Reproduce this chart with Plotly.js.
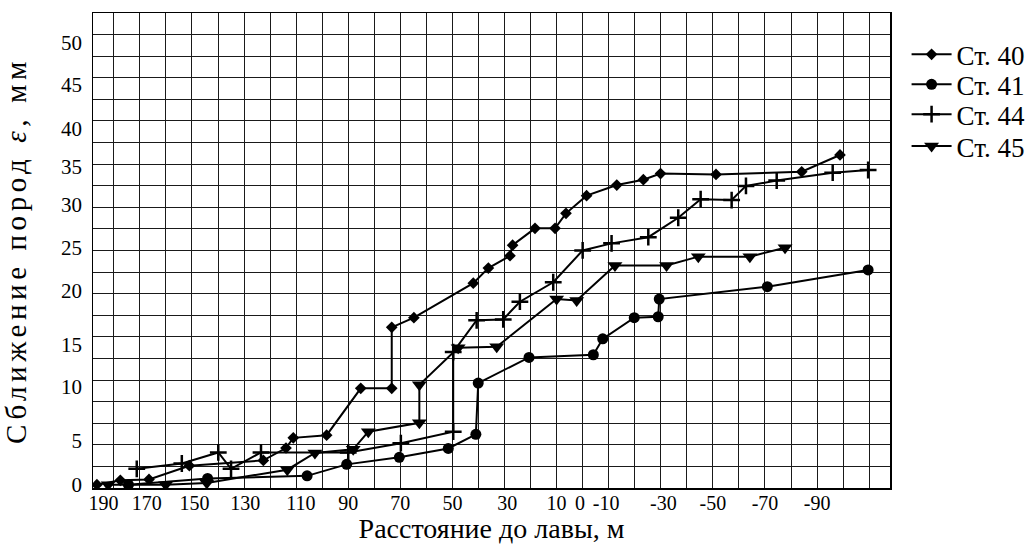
<!DOCTYPE html>
<html>
<head>
<meta charset="utf-8">
<script src="https://cdn.plot.ly/plotly-3.0.1.min.js"></script>
<style>
html,body{margin:0;padding:0;background:#fff;}
#chart{width:1026px;height:544px;}
#chart .g-y2title text{letter-spacing:4.6px;}
</style>
</head>
<body>
<div id="chart"></div>
<script>
// ---- tick labels (as printed on the chart) and where they sit on the axes ----
const xTickLabels = ['190','170','150','130','110','90','70','50','30','10','0','-10','-30','-50','-70','-90'];
const xTickPos    = [184, 167.4, 149, 129.5, 108.2, 90, 70, 50, 29, 10, 1, -9, -31, -50, -70, -90];
const yTickLabels = ['0','5','10','15','20','25','30','35','40','45','50'];
const yTickPos    = [0, 5, 11.1, 15.8, 21.9, 26.8, 31.7, 36, 40.3, 45.2, 50];

// ---- series: distance to the face (m) and rock convergence (mm) ----
const st40x = [186.5, 177.5, 166.5, 151, 122.6, 113.9, 111.1, 98.3, 85.2, 73.3, 73.3, 64.8, 42.0, 36.2, 27.9, 26.9, 18.3, 10.6, 6.4, -1.5, -13.1, -23.3, -29.9, -51.2, -84.1, -98.8];
const st40y = [0, 0.5, 0.6, 2.15, 2.75, 4.15, 5.3, 5.6, 10.9, 10.9, 17.8, 18.9, 22.8, 24.5, 25.9, 27.1, 29.0, 29.0, 30.7, 32.7, 33.9, 34.5, 35.2, 35.1, 35.4, 37.3];

const st41x = [174.4, 144.0, 105.8, 90.6, 70.4, 51.6, 41.0, 40.1, 20.6, -4.1, -7.7, -19.8, -29.0, -29.4, -70.9, -109.6];
const st41y = [0, 0.7, 1.0, 2.3, 3.1, 4.1, 5.7, 11.5, 14.4, 14.7, 16.5, 18.9, 19.0, 21.0, 22.4, 24.3];

const st44x = [171.2, 153.9, 139.9, 135, 123.5, 90, 69.8, 49.7, 49.7, 40.7, 30.5, 24.1, 11.3, 0, -11.1, -25.2, -36.7, -45.3, -57.2, -62.7, -74.5, -96, -109.6];
const st44y = [1.8, 2.4, 3.65, 1.8, 3.65, 3.65, 4.7, 6.0, 15.0, 18.6, 18.7, 20.7, 22.9, 26.5, 27.3, 28.0, 30.2, 32.3, 32.2, 33.8, 34.4, 35.3, 35.6];

const st45x = [182.2, 160.1, 144.3, 113.4, 102.8, 88.1, 82.3, 62.7, 62.7, 47.8, 33.0, 10.0, 2.3, -12.4, -32.2, -44.4, -64.2, -77.7];
const st45y = [0, 0, 0.2, 1.7, 3.6, 4.0, 6.0, 7.0, 11.3, 15.5, 15.6, 21.0, 20.85, 24.8, 24.8, 25.8, 25.8, 26.8];

const names = ['Ст. 40', 'Ст. 41', 'Ст. 44', 'Ст. 45'];

const FONT = 'Liberation Serif, Times New Roman, serif';
const xRange = [188, -118];
const yRange = [-0.373, 53.36];
const NB = '\u00A0';

function series(x, y, name, symbol, size, legendId, lw) {
  return {
    x: x, y: y, name: name, type: 'scatter', mode: 'lines+markers', legend: legendId,
    line: {color: '#000', width: 2},
    marker: {color: '#000', symbol: symbol, size: size, line: {color: '#000', width: lw}},
    hoverinfo: 'x+y+name'
  };
}

const traces = [
  series(st40x, st40y, names[0], 'diamond', 9, 'legend', 0),
  series(st41x, st41y, names[1], 'circle', 11, 'legend2', 0),
  series(st44x, st44y, names[2], 'cross-thin', 12, 'legend3', 2.5),
  series(st45x, st45y, names[3], 'triangle-down', 13, 'legend4', 0),
  {x: [], y: [], xaxis: 'x2', yaxis: 'y2', type: 'scatter', mode: 'markers', showlegend: false, hoverinfo: 'skip'}
];

const gridAxis = {
  tickmode: 'linear', showgrid: true, gridcolor: '#1a1a1a', gridwidth: 1,
  showticklabels: false, ticks: '', zeroline: false,
  showline: true, linecolor: '#000', linewidth: 1.5, mirror: true, fixedrange: true
};

function legendAt(yPaper) {
  return {
    x: 1.0208, y: yPaper, xanchor: 'left', yanchor: 'middle',
    font: {family: FONT, size: 27, color: '#000'},
    bgcolor: 'rgba(0,0,0,0)', borderwidth: 0, itemwidth: 40
  };
}

const layout = {
  width: 1026, height: 544,
  margin: {l: 93, r: 136, t: 13, b: 56, pad: 0, autoexpand: false},
  paper_bgcolor: '#fff', plot_bgcolor: '#fff',
  font: {family: FONT, color: '#000'},
  showlegend: true,
  legend: legendAt(0.912),
  legend2: legendAt(0.849),
  legend3: legendAt(0.786),
  legend4: legendAt(0.719),
  xaxis: Object.assign({}, gridAxis, {range: xRange, tick0: 0, dtick: 10}),
  yaxis: Object.assign({}, gridAxis, {range: yRange, tick0: yRange[0], dtick: (yRange[1] - yRange[0]) / 22}),
  xaxis2: {
    overlaying: 'x', anchor: 'y', side: 'bottom', range: xRange,
    tickmode: 'array', tickvals: xTickPos, ticktext: xTickLabels,
    showgrid: false, zeroline: false, showline: false, ticks: '',
    ticklabelstandoff: 1,
    tickfont: {family: FONT, size: 20, color: '#000'},
    title: {text: 'Расстояние до лавы, м' + NB + NB + NB, font: {family: FONT, size: 28, color: '#000'}, standoff: 13},
    automargin: false, fixedrange: true
  },
  yaxis2: {
    overlaying: 'y', anchor: 'x', side: 'left', range: yRange,
    tickmode: 'array', tickvals: yTickPos, ticktext: yTickLabels,
    showgrid: false, zeroline: false, showline: false, ticks: '',
    ticklabelstandoff: 10,
    tickfont: {family: FONT, size: 21, color: '#000'},
    title: {text: 'Сближение пород <i>ε</i>,' + NB + 'мм' + NB + NB + NB, font: {family: FONT, size: 29, color: '#000'}, standoff: 25},
    automargin: false, fixedrange: true
  }
};

Plotly.newPlot('chart', traces, layout, {displayModeBar: false, staticPlot: true});
</script>
</body>
</html>
